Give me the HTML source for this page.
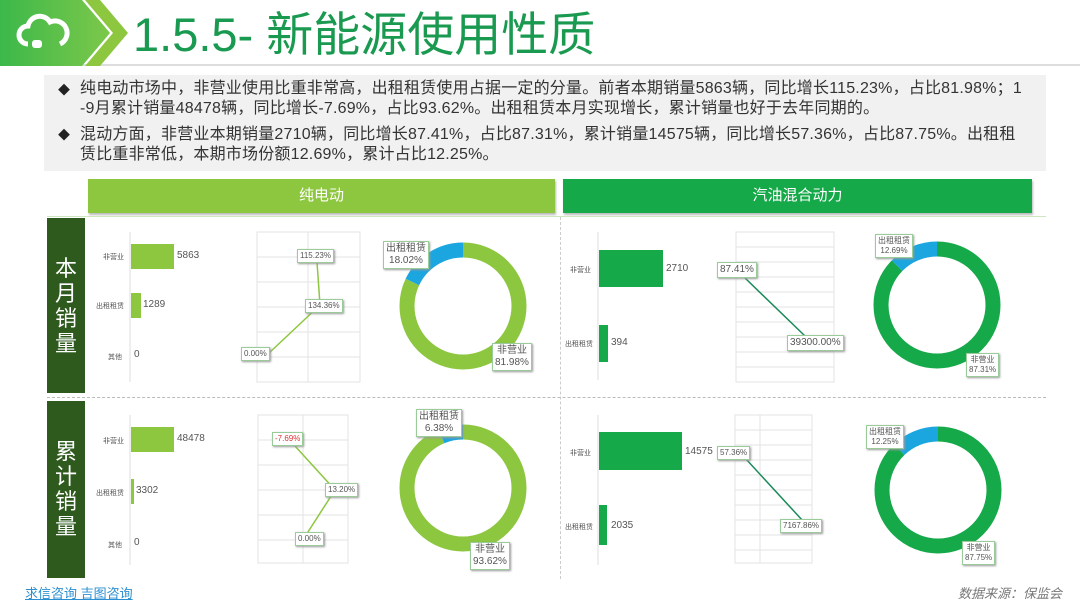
<!DOCTYPE html>
<html><head><meta charset="utf-8"><style>
*{margin:0;padding:0;box-sizing:border-box}
body{width:1080px;height:607px;position:relative;background:#fff;font-family:"Liberation Sans","Noto Sans CJK SC",sans-serif;overflow:hidden;color:#333}
.a{position:absolute}
.t{font-size:16px;letter-spacing:0.2px;line-height:20px;color:#333;white-space:nowrap}
.lb{position:absolute;font-size:7px;color:#555;white-space:nowrap}
.v{position:absolute;font-size:10px;color:#555;white-space:nowrap}
.box{position:absolute;background:#fff;border:1px solid #9c9;box-shadow:1px 1px 2px #999;font-size:8px;color:#555;text-align:center;line-height:10px;padding:1px 2px;white-space:nowrap}
</style></head><body>
<div class="a" style="left:0;top:0;width:1080px;height:66px;background:#fff;border-bottom:2px solid #ddd"></div>
<svg class="a" style="left:0;top:0" width="140" height="68">
<defs><linearGradient id="g" x1="0" x2="1"><stop offset="0" stop-color="#3cb84a"/><stop offset="1" stop-color="#7cc84a"/></linearGradient></defs>
<polygon points="0,0 82,0 110,33 82,66 0,66" fill="url(#g)"/>
<polygon points="85,0 100,0 128,33 100,66 85,66 113,33" fill="#8dc63f"/>
<path d="M28,44 a9,9 0 0 1 0,-18 a12,12 0 0 1 22,-4 a9,9 0 0 1 10,22" fill="none" stroke="#fff" stroke-width="5"/>
<rect x="32" y="40" width="10" height="8" rx="3" fill="#fff"/>
</svg>
<div class="a" style="left:133px;top:6px;font-size:47px;line-height:58px;color:#1a9a50;white-space:nowrap">1.5.5- 新能源使用性质</div>
<div class="a" style="left:44px;top:75px;width:1002px;height:96px;background:#f1f1f1"></div>
<div class="a" style="left:58px;top:81px;font-size:12px;color:#222">◆</div>
<div class="a" style="left:58px;top:126px;font-size:12px;color:#222">◆</div>
<div class="a t" style="left:80px;top:79px">纯电动市场中，非营业使用比重非常高，出租租赁使用占据一定的分量。前者本期销量5863辆，同比增长115.23%，占比81.98%；1</div>
<div class="a t" style="left:80px;top:99px">-9月累计销量48478辆，同比增长-7.69%，占比93.62%。出租租赁本月实现增长，累计销量也好于去年同期的。</div>
<div class="a t" style="left:80px;top:125px">混动方面，非营业本期销量2710辆，同比增长87.41%，占比87.31%，累计销量14575辆，同比增长57.36%，占比87.75%。出租租</div>
<div class="a t" style="left:80px;top:145px">赁比重非常低，本期市场份额12.69%，累计占比12.25%。</div>
<div class="a" style="left:88px;top:179px;width:467px;height:34px;background:#8dc63f;color:#fff;font-size:15px;line-height:34px;text-align:center;box-shadow:1px 2px 2px #bbb">纯电动</div>
<div class="a" style="left:563px;top:179px;width:469px;height:34px;background:#16a94a;color:#fff;font-size:15px;line-height:34px;text-align:center;box-shadow:1px 2px 2px #bbb">汽油混合动力</div>
<div class="a" style="left:47px;top:216px;width:999px;height:1px;background:#cde8c0"></div>
<div class="a" style="left:47px;top:397px;width:999px;border-top:1px dashed #bbb"></div>
<div class="a" style="left:560px;top:217px;height:362px;border-left:1px dashed #ccc"></div>
<div class="a" style="left:47px;top:218px;width:38px;height:175px;background:#2e5a1e;color:#fff;font-size:22px;line-height:25px;text-align:center;padding-top:38px">本<br>月<br>销<br>量</div>
<div class="a" style="left:47px;top:401px;width:38px;height:177px;background:#2e5a1e;color:#fff;font-size:22px;line-height:25px;text-align:center;padding-top:38px">累<br>计<br>销<br>量</div>

<svg class="a" style="left:0;top:0" width="1080" height="607">
<g stroke="#e3e3e3" fill="none">
<rect x="257" y="232" width="103" height="150"/><line x1="308" y1="232" x2="308" y2="382"/>
<line x1="257" y1="257" x2="360" y2="257"/><line x1="257" y1="282" x2="360" y2="282"/><line x1="257" y1="307" x2="360" y2="307"/><line x1="257" y1="332" x2="360" y2="332"/><line x1="257" y1="357" x2="360" y2="357"/>
<rect x="736" y="232" width="98" height="150"/>
<line x1="736" y1="247" x2="834" y2="247"/><line x1="736" y1="262" x2="834" y2="262"/><line x1="736" y1="277" x2="834" y2="277"/><line x1="736" y1="292" x2="834" y2="292"/><line x1="736" y1="307" x2="834" y2="307"/><line x1="736" y1="322" x2="834" y2="322"/><line x1="736" y1="337" x2="834" y2="337"/><line x1="736" y1="352" x2="834" y2="352"/><line x1="736" y1="367" x2="834" y2="367"/>
<rect x="258" y="415" width="90" height="148"/><line x1="303" y1="415" x2="303" y2="563"/>
<line x1="258" y1="440" x2="348" y2="440"/><line x1="258" y1="465" x2="348" y2="465"/><line x1="258" y1="490" x2="348" y2="490"/><line x1="258" y1="515" x2="348" y2="515"/><line x1="258" y1="540" x2="348" y2="540"/>
<rect x="735" y="415" width="77" height="148"/><line x1="760" y1="415" x2="760" y2="563"/>
<line x1="735" y1="430" x2="812" y2="430"/><line x1="735" y1="445" x2="812" y2="445"/><line x1="735" y1="460" x2="812" y2="460"/><line x1="735" y1="475" x2="812" y2="475"/><line x1="735" y1="490" x2="812" y2="490"/><line x1="735" y1="505" x2="812" y2="505"/><line x1="735" y1="520" x2="812" y2="520"/><line x1="735" y1="535" x2="812" y2="535"/><line x1="735" y1="550" x2="812" y2="550"/>
</g>
<g stroke="#ddd"><line x1="130" y1="232" x2="130" y2="382"/><line x1="598" y1="232" x2="598" y2="380"/><line x1="130" y1="415" x2="130" y2="565"/><line x1="598" y1="415" x2="598" y2="565"/></g>
<g fill="#8dc63f"><rect x="131" y="244" width="43" height="25"/><rect x="131" y="293" width="10" height="25"/><rect x="131" y="427" width="43" height="25"/><rect x="131" y="479" width="3" height="25"/></g>
<g fill="#16a94a"><rect x="599" y="250" width="64" height="37"/><rect x="599" y="325" width="9" height="37"/><rect x="599" y="432" width="83" height="38"/><rect x="599" y="505" width="8" height="40"/></g>
<polyline points="268,354 320,305 317,262" fill="none" stroke="#8dc63f" stroke-width="1.5"/>
<polyline points="306,535 335,490 295,446" fill="none" stroke="#8dc63f" stroke-width="1.5"/>
<line x1="745" y1="278" x2="805" y2="336" stroke="#1a8a5a" stroke-width="1.5"/>
<line x1="745" y1="458" x2="803" y2="521" stroke="#1a8a5a" stroke-width="1.5"/>
<g transform="translate(463,306) rotate(-90)"><circle r="56" fill="none" stroke="#8dc63f" stroke-width="15" stroke-dasharray="288.4 400"/><circle r="56" fill="none" stroke="#1ba6e0" stroke-width="15" stroke-dasharray="63.4 400" stroke-dashoffset="-288.4"/></g>
<g transform="translate(937,305) rotate(-90)"><circle r="56" fill="none" stroke="#16a94a" stroke-width="15" stroke-dasharray="307.2 400"/><circle r="56" fill="none" stroke="#1ba6e0" stroke-width="15" stroke-dasharray="44.7 400" stroke-dashoffset="-307.2"/></g>
<g transform="translate(463,488) rotate(-90)"><circle r="56" fill="none" stroke="#8dc63f" stroke-width="15" stroke-dasharray="329.4 400"/><circle r="56" fill="none" stroke="#1ba6e0" stroke-width="15" stroke-dasharray="22.4 400" stroke-dashoffset="-329.4"/></g>
<g transform="translate(938,490) rotate(-90)"><circle r="56" fill="none" stroke="#16a94a" stroke-width="15" stroke-dasharray="308.8 400"/><circle r="56" fill="none" stroke="#1ba6e0" stroke-width="15" stroke-dasharray="43.1 400" stroke-dashoffset="-308.8"/></g>
</svg>
<div class="lb" style="left:103px;top:252px">非营业</div><div class="v" style="left:177px;top:250px">5863</div>
<div class="lb" style="left:96px;top:301px">出租租赁</div><div class="v" style="left:143px;top:299px">1289</div>
<div class="lb" style="left:108px;top:352px">其他</div><div class="v" style="left:134px;top:349px">0</div>
<div class="lb" style="left:570px;top:265px">非营业</div><div class="v" style="left:666px;top:263px">2710</div>
<div class="lb" style="left:565px;top:339px">出租租赁</div><div class="v" style="left:611px;top:337px">394</div>
<div class="lb" style="left:103px;top:436px">非营业</div><div class="v" style="left:177px;top:433px">48478</div>
<div class="lb" style="left:96px;top:488px">出租租赁</div><div class="v" style="left:136px;top:485px">3302</div>
<div class="lb" style="left:108px;top:540px">其他</div><div class="v" style="left:134px;top:537px">0</div>
<div class="lb" style="left:570px;top:448px">非营业</div><div class="v" style="left:685px;top:446px">14575</div>
<div class="lb" style="left:565px;top:522px">出租租赁</div><div class="v" style="left:611px;top:520px">2035</div>
<div class="box" style="left:297px;top:249px">115.23%</div>
<div class="box" style="left:305px;top:299px">134.36%</div>
<div class="box" style="left:241px;top:347px">0.00%</div>
<div class="box" style="left:717px;top:262px;font-size:10px;line-height:12px">87.41%</div>
<div class="box" style="left:787px;top:335px;font-size:10px;line-height:12px">39300.00%</div>
<div class="box" style="left:272px;top:432px;color:#d33">-7.69%</div>
<div class="box" style="left:325px;top:483px">13.20%</div>
<div class="box" style="left:295px;top:532px">0.00%</div>
<div class="box" style="left:717px;top:446px">57.36%</div>
<div class="box" style="left:780px;top:519px">7167.86%</div>
<div class="box" style="left:383px;top:241px;font-size:10px;line-height:12px">出租租赁<br>18.02%</div>
<div class="box" style="left:492px;top:343px;font-size:10px;line-height:12px">非营业<br>81.98%</div>
<div class="box" style="left:875px;top:234px">出租租赁<br>12.69%</div>
<div class="box" style="left:966px;top:353px">非营业<br>87.31%</div>
<div class="box" style="left:416px;top:409px;font-size:10px;line-height:12px">出租租赁<br>6.38%</div>
<div class="box" style="left:470px;top:542px;font-size:10px;line-height:12px">非营业<br>93.62%</div>
<div class="box" style="left:866px;top:425px">出租租赁<br>12.25%</div>
<div class="box" style="left:962px;top:541px">非营业<br>87.75%</div>
<div class="a" style="left:25px;top:583px;font-size:13px;color:#2a8fd0;text-decoration:underline;white-space:nowrap">求信咨询 吉图咨询</div>
<div class="a" style="left:958px;top:583px;font-size:13px;color:#777;font-style:italic;white-space:nowrap">数据来源：保监会</div>
</body></html>
